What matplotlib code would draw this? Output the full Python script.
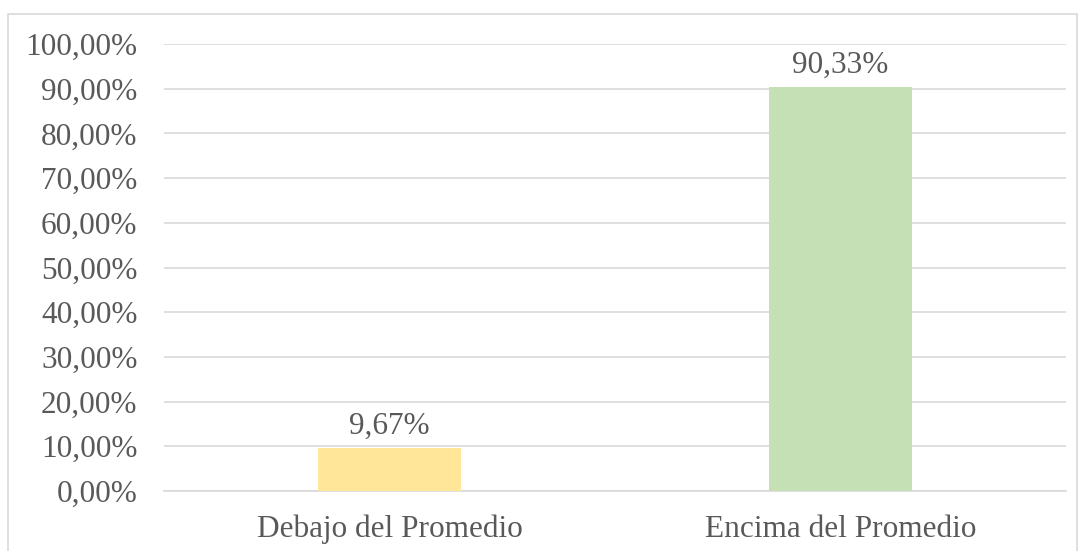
import matplotlib
matplotlib.use("Agg")
import matplotlib.pyplot as plt
from matplotlib.patches import Rectangle
from matplotlib.ticker import FuncFormatter

categories = ["Debajo del Promedio", "Encima del Promedio"]
values = [9.67, 90.33]
bar_colors = ["#FFE699", "#C5E0B4"]
yticks = [0, 10, 20, 30, 40, 50, 60, 70, 80, 90, 100]

plt.rcParams['font.family'] = ['Liberation Serif', 'DejaVu Serif']
W, H = 1080, 551
fig = plt.figure(figsize=(W/100, H/100), dpi=100)
ax = fig.add_axes([164/W, 1-491/H, (1066-164)/W, (491-44)/H])

x = range(len(categories))
ax.bar(x, values, width=0.315, color=bar_colors, zorder=3)
ax.set_xlim(-0.5, 1.5)
ax.set_ylim(0, 100)
ax.set_yticks(yticks)
ax.yaxis.set_major_formatter(FuncFormatter(lambda v, p: f"{v:.2f}".replace(".", ",") + "%"))
ax.set_xticks(list(x))
ax.set_xticklabels(categories)
ax.tick_params(axis='both', length=0, labelsize=22.5, labelcolor="#595959")
ax.tick_params(axis='y', pad=19)
ax.tick_params(axis='x', pad=17)
ax.grid(axis='y', color="#D9D9D9", linewidth=1.2, zorder=0)
for s in ["top", "right", "left"]:
    ax.spines[s].set_visible(False)
ax.spines["bottom"].set_color("#D9D9D9")
ax.spines["bottom"].set_linewidth(1.2)

for xi, v in zip(x, values):
    ax.annotate(f"{v:.2f}".replace(".", ",") + "%", (xi, v), xytext=(0, 5),
                textcoords="offset points", ha="center", va="bottom",
                fontsize=22.5, color="#595959")

fig.patches.append(Rectangle((8/W, -0.01), (1077-8)/W, 1 - 14/H + 0.01,
                             transform=fig.transFigure, fill=False,
                             edgecolor="#D9D9D9", linewidth=1.2))
fig.savefig("out.png", dpi=100)
